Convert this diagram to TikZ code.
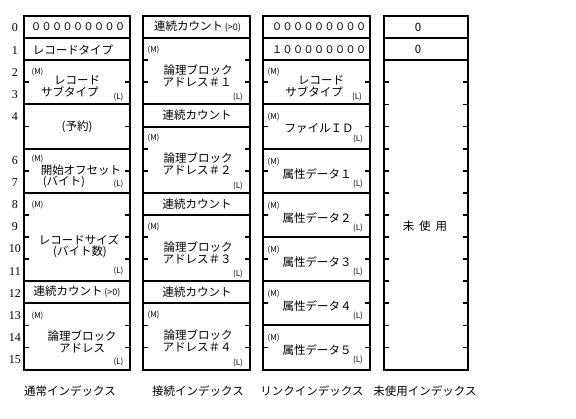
\documentclass[tikz,border=0pt]{standalone}
\usepackage{fontspec}
\setmainfont{Noto Sans CJK JP}
\newfontfamily\numfont{Liberation Serif}
\newcommand{\yr}[1]{{16+#1*22.1}}
\newcommand{\gtzero}{{\fontsize{9}{10}\selectfont(>0)}}
\tikzset{
  frame/.style={line width=2pt},
  sepline/.style={line width=2pt},
  tickline/.style={line width=1.8pt},
  lbl/.style={inner sep=0pt, font=\fontsize{11.5}{12}\selectfont},
  digits/.style={inner sep=0pt, font=\fontsize{10.5}{12}\selectfont},
  tag/.style={inner sep=0pt, font=\fontsize{8}{9}\selectfont},
  rownum/.style={inner sep=0pt, font=\numfont\fontsize{12}{13}\selectfont},
  caption/.style={inner sep=0pt, font=\fontsize{11.5}{12}\selectfont},
}
\begin{document}
\begin{tikzpicture}[x=1pt,y=-1pt]
\useasboundingbox[fill=white] (0,0) rectangle (576,418);
% ---------- frames ----------
\draw[frame] (24,16) rectangle (130,\yr{16});
\draw[frame] (143,16) rectangle (250,\yr{16});
\draw[frame] (263,16) rectangle (370,\yr{16});
\draw[frame] (383.5,16) rectangle (467.5,\yr{16});
% ---------- separators ----------
\foreach \k in {1,2,4,6,8,12,13} \draw[sepline] (24,\yr{\k}) -- (130,\yr{\k});
\foreach \k in {1,4,5,8,9,12,13} \draw[sepline] (143,\yr{\k}) -- (250,\yr{\k});
\foreach \k in {1,2,4,6,8,10,12,14} \draw[sepline] (263,\yr{\k}) -- (370,\yr{\k});
\foreach \k in {1,2} \draw[sepline] (383.5,\yr{\k}) -- (467.5,\yr{\k});
% ---------- ticks ----------
\foreach \k in {3,5,7,9,10,11,14,15} {\draw[tickline] (24,\yr{\k}) -- +(5,0); \draw[tickline] (130,\yr{\k}) -- +(-5,0);}
\foreach \k in {2,3,6,7,10,11,14,15} {\draw[tickline] (143,\yr{\k}) -- +(5,0); \draw[tickline] (250,\yr{\k}) -- +(-5,0);}
\foreach \k in {3,5,7,9,11,13,15} {\draw[tickline] (263,\yr{\k}) -- +(5,0); \draw[tickline] (370,\yr{\k}) -- +(-5,0);}
\foreach \k in {3,...,15} {\draw[tickline] (383.5,\yr{\k}) -- +(5,0); \draw[tickline] (467.5,\yr{\k}) -- +(-5,0);}
% ---------- row numbers ----------
\foreach \k in {0,1,2,3,4,6,7,8,9,10,11,12,13,14,15}
  \node[rownum] (n\k) at (15,{16+(\k+0.5)*22.1+1}) {\k};
% ---------- column 1 ----------
\node[digits] (a0) at (78,27) {０００００００００};
\node[lbl] (a1) at (73,49.5) {レコードタイプ};
\node[tag] (a2m) at (37.5,72) {(M)};
\node[lbl] (a2a) at (77,80) {レコード};
\node[lbl] (a2b) at (70,92) {サブタイプ};
\node[tag] (a2l) at (118.5,97) {(L)};
\node[lbl] (a4) at (77,127) {(予約)};
\node[tag] (a6m) at (37.5,159) {(M)};
\node[lbl] (a6a) at (81,170) {開始オフセット};
\node[lbl] (a6b) at (64,182) {(バイト)};
\node[tag] (a6l) at (118.5,184) {(L)};
\node[tag] (a8m) at (37.5,205) {(M)};
\node[lbl] (a8a) at (79,240) {レコードサイズ};
\node[lbl] (a8b) at (80,252) {(バイト数)};
\node[tag] (a8l) at (118.5,271) {(L)};
\node[lbl] (a12) at (77,292) {連続カウント\,\gtzero};
\node[tag] (a13m) at (37.5,316) {(M)};
\node[lbl] (a13a) at (82,336) {論理ブロック};
\node[lbl] (a13b) at (82,348) {アドレス};
\node[tag] (a13l) at (118.5,362) {(L)};
% ---------- column 2 ----------
\node[lbl] (b0) at (197.5,27) {連続カウント\,\gtzero};
\node[tag] (b1m) at (153.5,50) {(M)};
\node[lbl] (b1a) at (198,70) {論理ブロック};
\node[lbl] (b1b) at (197,82) {アドレス＃１};
\node[tag] (b1l) at (238,97.4) {(L)};
\node[lbl] (b4) at (197,115.5) {連続カウント};
\node[tag] (b5m) at (153.5,138.5) {(M)};
\node[lbl] (b5a) at (198,158.5) {論理ブロック};
\node[lbl] (b5b) at (197,170.5) {アドレス＃２};
\node[tag] (b5l) at (238,185.8) {(L)};
\node[lbl] (b8) at (197,203.9) {連続カウント};
\node[tag] (b9m) at (153.5,226.9) {(M)};
\node[lbl] (b9a) at (198,246.9) {論理ブロック};
\node[lbl] (b9b) at (197,258.9) {アドレス＃３};
\node[tag] (b9l) at (238,274.2) {(L)};
\node[lbl] (b12) at (197,292.3) {連続カウント};
\node[tag] (b13m) at (153.5,315.3) {(M)};
\node[lbl] (b13a) at (198,335.3) {論理ブロック};
\node[lbl] (b13b) at (197,347.3) {アドレス＃４};
\node[tag] (b13l) at (238,362.6) {(L)};
% ---------- column 3 ----------
\node[digits] (c0) at (319,27) {０００００００００};
\node[digits] (c1) at (319,49.2) {１００００００００};
\node[tag] (c2m) at (273.5,72) {(M)};
\node[lbl] (c2a) at (321,80) {レコード};
\node[lbl] (c2b) at (314,92) {サブタイプ};
\node[tag] (c2l) at (357,97) {(L)};
\node[tag] (c4m) at (273.5,117) {(M)};
\node[lbl] (c4) at (319,128.5) {ファイルＩＤ};
\node[tag] (c4l) at (358,139) {(L)};
\node[tag] (c6m) at (273.5,161.6) {(M)};
\node[lbl] (c6) at (317,173.6) {属性データ１};
\node[tag] (c6l) at (358,183.6) {(L)};
\node[tag] (c8m) at (273.5,205.8) {(M)};
\node[lbl] (c8) at (317,217.8) {属性データ２};
\node[tag] (c8l) at (358,227.8) {(L)};
\node[tag] (c10m) at (273.5,250) {(M)};
\node[lbl] (c10) at (317,262) {属性データ３};
\node[tag] (c10l) at (358,272) {(L)};
\node[tag] (c12m) at (273.5,294.2) {(M)};
\node[lbl] (c12) at (317,306.2) {属性データ４};
\node[tag] (c12l) at (358,316.2) {(L)};
\node[tag] (c14m) at (273.5,338.4) {(M)};
\node[lbl] (c14) at (317,350.4) {属性データ５};
\node[tag] (c14l) at (358,360.4) {(L)};
% ---------- column 4 ----------
\node[lbl] (d0) at (418,27) {0};
\node[lbl] (d1) at (418,49.2) {0};
\node[lbl] (d9) at (425,226) {未\hspace{5pt}使\hspace{5pt}用};
% ---------- captions ----------
\node[caption] (t1) at (70,391) {通常インデックス};
\node[caption] (t2) at (198,391) {接続インデックス};
\node[caption] (t3) at (312,391) {リンクインデックス};
\node[caption] (t4) at (425,391) {未使用インデックス};
\end{tikzpicture}
\end{document}
